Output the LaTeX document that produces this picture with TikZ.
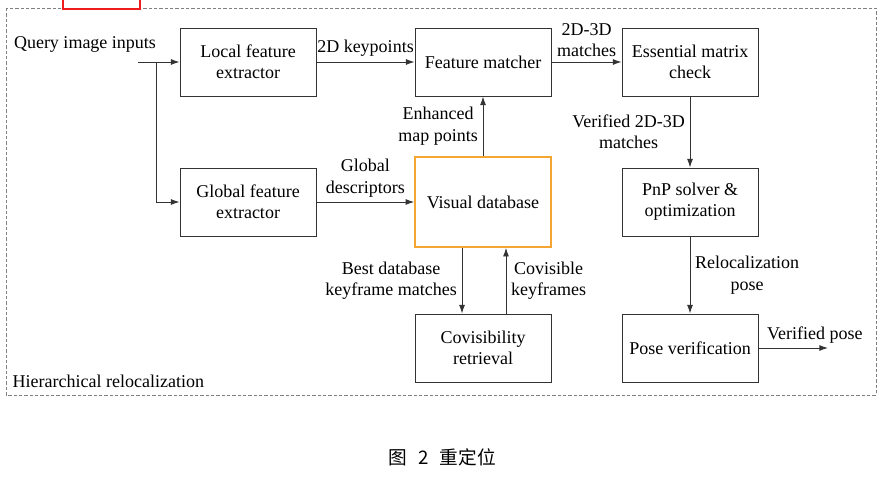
\documentclass[tikz,border=0pt]{standalone}
\usepackage{fontspec}
\setmainfont{Liberation Serif}
\newfontfamily\cjkfont{Noto Sans CJK SC}
\usetikzlibrary{shapes,arrows,arrows.meta,positioning,calc}
\definecolor{dbcolor}{HTML}{F5A531}
\definecolor{framegray}{HTML}{7F7F7F}
\definecolor{markred}{HTML}{EE1C1C}

\begin{document}
\begin{tikzpicture}[x=0.75pt,y=-0.75pt,font=\fontsize{13.5pt}{16pt}\selectfont]
        % Define styles
        \tikzstyle{block} = [rectangle, minimum width=102pt, minimum height=51pt, text centered, align=center, draw=black!80, line width=0.7pt]
        \tikzstyle{dbblock} = [block, minimum height=67.5pt, draw=dbcolor, line width=1.2pt]
        \tikzstyle{arrow} = [->,>={Latex[length=6.5pt,width=4.5pt]}, line width=0.7pt, draw=black!80]
        \tikzstyle{lbl} = [align=center, inner sep=3.5pt]

        \useasboundingbox (0,0) rectangle (887,485);

        % Frame
        \draw[framegray, dash pattern=on 2.5pt off 1.5pt, line width=0.6pt] (6,8) rectangle (876,395);
        \draw[markred, line width=2.2pt] (63,0) -- (63,9) -- (140,9) -- (140,0);
        \node (title) [anchor=west] at (8,381) {Hierarchical relocalization};

        % Blocks
        \node (local) [block] at (248,62) {Local feature\\extractor};
        \node (global) [block] at (248,202) {Global feature\\extractor};
        \node (matcher) [block] at (483,62) {Feature matcher};
        \node (vdb) [dbblock] at (483,202) {Visual database};
        \node (covis) [block] at (483,348) {Covisibility\\retrieval};
        \node (essential) [block] at (690,62) {Essential matrix\\check};
        \node (pnp) [block] at (690,202) {PnP solver \&\\optimization};
        \node (posever) [block] at (690,348) {Pose verification};

        % Inputs
        \node (query) at (85,44) {Query image inputs};
        \coordinate (qin) at (138,62);
        \coordinate (split) at (156,62);
        \coordinate (vpose) at (828,348);
        \draw[arrow] (qin) -- (local);
        \draw[arrow] (split) |- (global);

        % Flow
        \draw[arrow] (local) -- node[lbl, above] {2D keypoints} (matcher);
        \draw[arrow] (global) -- node[lbl, above] {Global\\descriptors} (vdb);
        \draw[arrow] (vdb) -- node[lbl, left] {Enhanced\\map points} (matcher);
        \draw[arrow] (matcher) -- node[lbl, above] {2D-3D\\matches} (essential);
        \draw[arrow] (essential) -- node[lbl, left] {Verified 2D-3D\\matches} (pnp);
        \draw[arrow] (pnp) -- node[lbl, right] {Relocalization\\pose} (posever);
        \draw[arrow] (posever) -- node[lbl, above right, pos=0.05] {Verified pose} (vpose);
        \draw[arrow] ($(vdb.south)+(-21,0)$) -- node[lbl, left] {Best database\\keyframe matches} ($(covis.north)+(-21,0)$);
        \draw[arrow] ($(covis.north)+(23,0)$) -- node[lbl, right] {Covisible\\keyframes} ($(vdb.south)+(23,0)$);

        % Caption
        \node (caption) at (442,457) {\cjkfont\fontsize{14pt}{16pt}\selectfont 图\hspace{0.6em}2\hspace{0.6em}重定位};
    \end{tikzpicture}
\end{document}
